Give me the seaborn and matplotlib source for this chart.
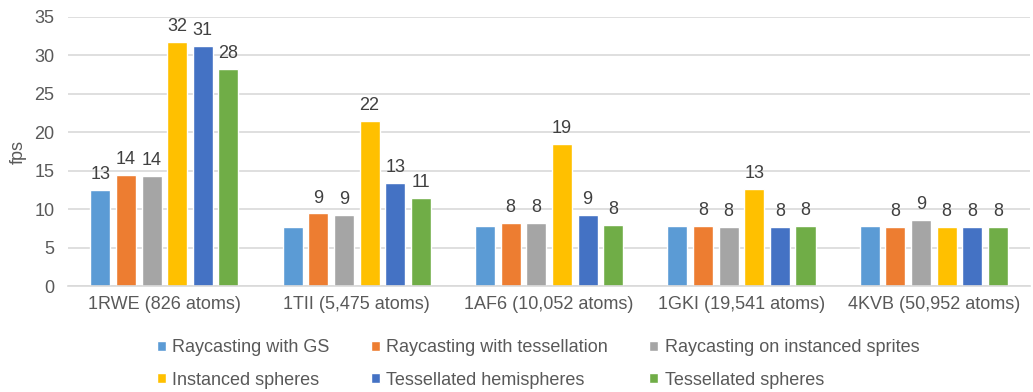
import numpy as np
import pandas as pd
import seaborn as sns
import matplotlib
matplotlib.use("Agg")
import matplotlib.pyplot as plt

categories = ["1RWE (826 atoms)", "1TII (5,475 atoms)", "1AF6 (10,052 atoms)",
              "1GKI (19,541 atoms)", "4KVB (50,952 atoms)"]
series = ["Raycasting with GS", "Raycasting with tessellation",
          "Raycasting on instanced sprites", "Instanced spheres",
          "Tessellated hemispheres", "Tessellated spheres"]

raycasting_gs = [12.5, 7.7, 7.85, 7.8, 7.8]
raycasting_tess = [14.4, 9.45, 8.2, 7.8, 7.75]
raycasting_sprites = [14.3, 9.2, 8.2, 7.65, 8.55]
instanced_spheres = [31.7, 21.5, 18.5, 12.6, 7.65]
tess_hemispheres = [31.2, 13.4, 9.3, 7.7, 7.65]
tess_spheres = [28.2, 11.4, 8.0, 7.8, 7.75]

labels_gs = ["13", "", "", "", ""]
labels_tess = ["14", "9", "8", "8", "8"]
labels_sprites = ["14", "9", "8", "8", "9"]
labels_inst = ["32", "22", "19", "13", "8"]
labels_hemi = ["31", "13", "9", "8", "8"]
labels_sph = ["28", "11", "8", "8", "8"]

colors = ["#5B9BD5", "#ED7D31", "#A5A5A5", "#FFC000", "#4472C4", "#70AD47"]

all_vals = [raycasting_gs, raycasting_tess, raycasting_sprites,
            instanced_spheres, tess_hemispheres, tess_spheres]
all_labels = [labels_gs, labels_tess, labels_sprites, labels_inst, labels_hemi, labels_sph]

rows = []
for s, vals in zip(series, all_vals):
    for c, v in zip(categories, vals):
        rows.append({"category": c, "series": s, "fps": v})
df = pd.DataFrame(rows)

sns.set_style("white")
plt.rcParams["font.family"] = ["Liberation Sans", "DejaVu Sans"]
text_color = "#595959"

fig, ax = plt.subplots(figsize=(10.33, 3.92), dpi=100)
fig.subplots_adjust(left=0.066, right=0.997, top=0.957, bottom=0.27)

sns.barplot(data=df, x="category", y="fps", hue="series", order=categories,
            hue_order=series, palette=colors, saturation=1, width=0.8, gap=0.22,
            ax=ax, legend=True, errorbar=None)

for cont, labs in zip(ax.containers, all_labels):
    ax.bar_label(cont, labels=labs, padding=5, fontsize=13, color="#404040")

ax.set_ylim(0, 35)
ax.set_yticks(np.arange(0, 36, 5))
ax.yaxis.grid(True, color="#D9D9D9", linewidth=1.2)
ax.set_axisbelow(True)
for sp in ["top", "right", "left"]:
    ax.spines[sp].set_visible(False)
ax.spines["bottom"].set_color("#D9D9D9")
ax.spines["bottom"].set_linewidth(1.2)
ax.tick_params(axis="both", length=0, labelsize=13, labelcolor=text_color)
ax.tick_params(axis="y", pad=10)
ax.tick_params(axis="x", pad=7)
ax.set_xlabel("")
ax.set_ylabel("fps", fontsize=13, color=text_color, va="center")
ax.yaxis.set_label_coords(-0.052, 0.5)

handles, labs = ax.get_legend_handles_labels()
ax.get_legend().remove()
order = [0, 3, 1, 4, 2, 5]
fig.legend([handles[i] for i in order], [labs[i] for i in order], ncol=3,
           loc="center", bbox_to_anchor=(538 / 1033, 1 - 364 / 392),
           frameon=False, fontsize=13, labelcolor=text_color,
           handlelength=0.5, handleheight=0.5, handletextpad=0.35,
           columnspacing=2.3, labelspacing=0.85)

fig.savefig("out.png", dpi=100)
